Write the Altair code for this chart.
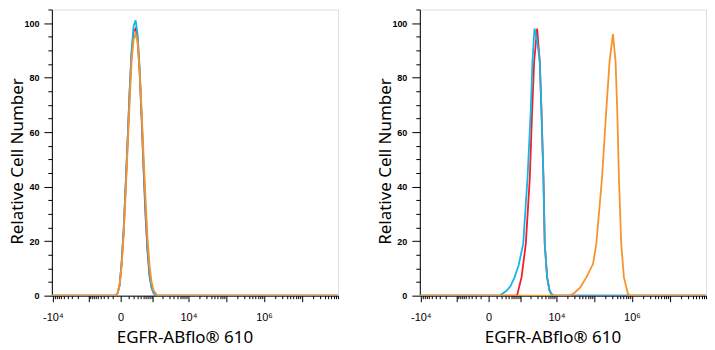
import altair as alt
import pandas as pd

# ---------------- data ----------------
X_MIN, X_MAX = -10600, 9.0e7

# left panel
left_x = [-58, -33, -10, 10, 33, 58, 87, 120, 156, 198, 245, 297, 357, 424,
          500, 586, 682, 792, 915, 1053, 1211, 1387]
left_blue = [0, 1, 4, 12, 24, 40, 57, 75, 90, 99, 101, 96, 84, 67, 48, 31, 17, 8, 3, 1, 0]
left_red = [0, 1, 4, 12, 24, 40, 57, 75, 89, 97, 98, 94, 82, 65, 46, 29, 16, 7, 3, 1, 0]
left_orange = [0, 1, 4, 11, 22, 37, 54, 71, 86, 94, 96, 93, 83, 68, 51, 35, 21, 11, 5, 2, 1, 0]

# right panel
right_blue_x = [156, 198, 326, 461, 632, 851, 1186, 1587, 1977, 2208, 2515, 2952,
                3530, 3929, 4458, 4837, 5618, 6487, 7343, 8308]
right_blue_y = [0, 0.5, 1.8, 3.5, 6.7, 11, 19, 43, 68, 86, 98, 94, 86, 68, 43, 19, 6.7, 2, 0.7, 0]
right_red_x = [735, 792, 1054, 1417, 1850, 2166, 2467, 2990, 3530, 3929, 4458, 4837,
               5618, 6487, 7343, 8308]
right_red_y = [0, 0.7, 6.7, 19, 43, 68, 86, 98, 86, 68, 43, 19, 6.7, 2, 0.5, 0]
right_orange_x = [22180, 30080, 43330, 62400, 93760, 114530, 161870, 210050, 256570,
                  315280, 369270, 409200, 453750, 521600, 614300, 782900, 900200]
right_orange_y = [0, 1, 3, 6.7, 11.6, 19, 43, 68, 86, 96, 86, 68, 43, 19, 6.7, 0.7, 0]

SERIES_COLORS = {"red": "#F0202A", "blue": "#19B4E6", "orange": "#F7932A"}

# axis ticks
x_major = [-10000, -1000, 0, 1000, 10000, 100000, 1000000, 10000000]
x_labels = {-10000: "-10⁴", 0: "0", 10000: "10⁴", 1000000: "10⁶"}
x_minor = [-k * 10 ** n for n in (2, 3) for k in range(2, 10)] + \
          [k * 10 ** n for n in range(2, 8) for k in range(2, 10)] + [-100, 100]
y_ticks = list(range(0, 106, 5))


def series_df(xs, ys, name):
    xs = list(xs)[:len(ys)]
    xx = [X_MIN] + xs + [X_MAX]
    yy = [0] + list(ys) + [0]
    return pd.DataFrame({"x": xx, "y": yy, "series": name, "i": range(len(xx))})


label_expr = " : ".join(
    f"datum.value == {v} ? '{t}'" for v, t in x_labels.items()) + " : ''"
major_test = "indexof([" + ",".join(str(v) for v in x_major) + "], datum.value) >= 0"
labeled_test = "indexof([" + ",".join(str(v) for v in x_labels) + "], datum.value) >= 0"

x_scale = alt.Scale(type="symlog", constant=165, domain=[X_MIN, X_MAX], nice=False, zero=False)
y_scale = alt.Scale(domain=[0, 105], nice=False)

x_axis = alt.Axis(
    values=sorted(set(x_major + x_minor)),
    labelExpr=label_expr,
    tickSize={"condition": {"test": major_test, "value": 6}, "value": 3},
    tickColor="black", tickWidth=1, domainColor="black", domainWidth=1,
    labelFont="Liberation Sans",
    labelFontSize={"condition": {"test": labeled_test, "value": 11}, "value": 0},
    labelColor="black",
    labelOverlap=False, labelFlush=False, labelPadding=10, labelAngle=0,
    grid=False,
    title="EGFR-ABflo® 610", titleFont="Noto Sans", titleFontSize=17,
    titleFontWeight="normal", titleColor="black", titlePadding=7, titleX=133,
)
y_axis = alt.Axis(
    values=y_ticks,
    labelExpr="datum.value % 20 == 0 ? datum.label : ''",
    tickSize={"condition": {"test": "datum.value % 20 == 0", "value": 8}, "value": 4},
    tickColor="black", tickWidth=1, domainColor="black", domainWidth=1,
    labelFont="Liberation Sans",
    labelFontSize={"condition": {"test": "datum.value % 20 == 0", "value": 9}, "value": 0},
    labelColor="black", labelFontWeight="bold",
    labelOverlap=False, labelPadding=5, grid=False,
    title="Relative Cell Number", titleFont="Noto Sans", titleFontSize=17,
    titleFontWeight="normal", titleColor="black", titlePadding=-3, titleY=152,
)


def line(df, name):
    return alt.Chart(df).mark_line(
        color=SERIES_COLORS[name], strokeWidth=1.8, clip=True, interpolate="linear"
    ).encode(
        x=alt.X("x:Q", scale=x_scale, axis=x_axis),
        y=alt.Y("y:Q", scale=y_scale, axis=y_axis),
        order="i:Q",
    )


left = alt.layer(
    line(series_df(left_x, left_red, "red"), "red"),
    line(series_df(left_x, left_blue, "blue"), "blue"),
    line(series_df(left_x, left_orange, "orange"), "orange"),
).properties(width=287, height=287)

right = alt.layer(
    line(series_df(right_red_x, right_red_y, "red"), "red"),
    line(series_df(right_blue_x, right_blue_y, "blue"), "blue"),
    line(series_df(right_orange_x, right_orange_y, "orange"), "orange"),
).properties(width=287, height=287)

chart = alt.hconcat(left, right, spacing=37).properties(padding=0).configure_view(
    stroke="#8a8a8a", strokeWidth=1
).configure(background="white")

chart.save("out.html", embed_options={"renderer": "svg", "actions": False})
